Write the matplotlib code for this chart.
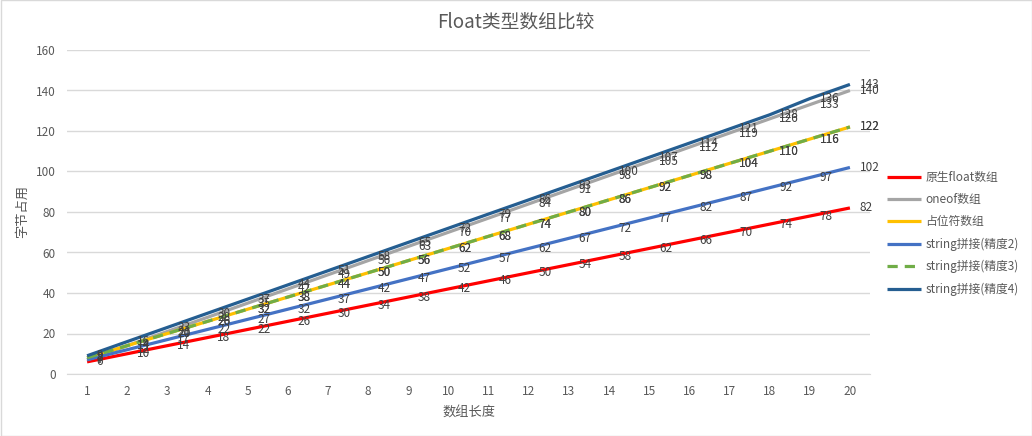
import matplotlib
matplotlib.use("Agg")
import matplotlib.pyplot as plt
from matplotlib.patches import Rectangle

plt.rcParams['font.family'] = ['Noto Sans CJK SC', 'DejaVu Sans']

x = list(range(1, 21))
series_names = ['原生float数组', 'oneof数组', '占位符数组',
                'string拼接(精度2)', 'string拼接(精度3)', 'string拼接(精度4)']
native = [6, 10, 14, 18, 22, 26, 30, 34, 38, 42, 46, 50, 54, 58, 62, 66, 70, 74, 78, 82]
oneof = [7, 14, 21, 28, 35, 42, 49, 56, 63, 70, 77, 84, 91, 98, 105, 112, 119, 126, 133, 140]
placeholder = [8, 14, 20, 26, 32, 38, 44, 50, 56, 62, 68, 74, 80, 86, 92, 98, 104, 110, 116, 122]
str_p2 = [7, 12, 17, 22, 27, 32, 37, 42, 47, 52, 57, 62, 67, 72, 77, 82, 87, 92, 97, 102]
str_p3 = [8, 14, 20, 26, 32, 38, 44, 50, 56, 62, 68, 74, 80, 86, 92, 98, 104, 110, 116, 122]
str_p4 = [9, 16, 23, 30, 37, 44, 51, 58, 65, 72, 79, 86, 93, 100, 107, 114, 121, 128, 136, 143]
x_ticks = list(range(1, 21))
y_ticks = [0, 20, 40, 60, 80, 100, 120, 140, 160]

colors = ['#FF0000', '#A5A5A5', '#FFC000', '#4472C4', '#70AD47', '#255E91']
styles = ['-', '-', '-', '-', '--', '-']
data = [native, oneof, placeholder, str_p2, str_p3, str_p4]

fig = plt.figure(figsize=(10.32, 4.36), dpi=100)
ax = fig.add_axes([67/1032, 1 - 374/436, (870-67)/1032, (374-50)/436])

for vals, c, ls, name in zip(data, colors, styles, series_names):
    if ls == '--':
        ax.plot(x, vals, color=c, lw=2.3, ls=(0, (3.2, 2.2)), label=name, solid_capstyle='butt')
    else:
        ax.plot(x, vals, color=c, lw=2.3, ls=ls, label=name, solid_capstyle='butt')

for vals in data:
    for xi, v in zip(x, vals):
        ax.annotate(str(v), (xi, v), xytext=(7, 0), textcoords='offset points',
                    ha='left', va='center', fontsize=8.5, color='#404040')

ax.set_xlim(0.5, 20.5)
ax.set_ylim(0, 160)
ax.set_xticks(x_ticks)
ax.set_yticks(y_ticks)
ax.tick_params(axis='both', length=0, labelsize=8.5, labelcolor='#595959', pad=8)
ax.grid(axis='y', color='#D9D9D9', lw=1)
ax.set_axisbelow(True)
for s in ['top', 'right', 'left']:
    ax.spines[s].set_visible(False)
ax.spines['bottom'].set_color('#D9D9D9')

ax.set_xlabel('数组长度', fontsize=9.5, color='#595959', labelpad=6)
ax.set_ylabel('字节占用', fontsize=9.5, color='#595959', labelpad=5)
fig.text(516/1032, 1 - 22/436, 'Float类型数组比较', ha='center', va='center',
         fontsize=13.5, color='#595959')

leg = fig.legend(loc='upper left', bbox_to_anchor=(887/1032, 1 - 171/436),
                 frameon=False, fontsize=8.5, handlelength=2.9, handletextpad=0.35,
                 labelspacing=0.78, borderaxespad=0, borderpad=0)
for t in leg.get_texts():
    t.set_color('#595959')

fig.patches.append(Rectangle((0.5/1032, 0.5/436), 1 - 1/1032, 1 - 1/436,
                             transform=fig.transFigure, fill=False,
                             edgecolor='#D9D9D9', lw=1))

fig.savefig('out.png', dpi=100, facecolor='white')
